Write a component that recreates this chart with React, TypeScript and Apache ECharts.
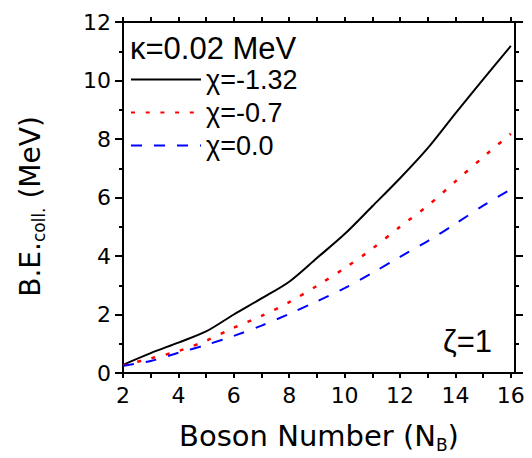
import React, { useEffect, useRef } from "react";
import * as echarts from "echarts";

// Boson number N_B (x) and binding energy B.E._coll. in MeV (y)
const bosonNumbers = [2, 3, 4, 5, 6, 7, 8, 9, 10, 11, 12, 13, 14, 15, 16];
const beChiNeg132 = [0.28, 0.68, 1.04, 1.42, 2.0, 2.55, 3.12, 3.93, 4.75, 5.7, 6.66, 7.69, 8.88, 10.04, 11.18];
const beChiNeg07 = [0.26, 0.5, 0.75, 1.1, 1.55, 1.95, 2.42, 2.98, 3.58, 4.25, 5.0, 5.72, 6.55, 7.38, 8.18];
const beChiZero = [0.25, 0.41, 0.69, 0.96, 1.27, 1.62, 2.02, 2.45, 2.9, 3.42, 3.97, 4.51, 5.1, 5.72, 6.28];

const seriesNames = ["χ=-1.32", "χ=-0.7", "χ=0.0"];
const xTickValues = [2, 3, 4, 5, 6, 7, 8, 9, 10, 11, 12, 13, 14, 15, 16];
const xLabelValues = [2, 4, 6, 8, 10, 12, 14, 16];
const kappaLabel = "κ=0.02 MeV";
const zetaLabel = "ζ=1";

const SANS = "'DejaVu Sans', sans-serif";
const ARIAL = "'Liberation Sans', Arial, sans-serif";

const pairs = (ys: number[]) => bosonNumbers.map((x, i) => [x, ys[i]]);

export default function App() {
  const ref = useRef<HTMLDivElement>(null);

  useEffect(() => {
    document.body.style.margin = "0";
    const chart = echarts.init(ref.current!, null, { renderer: "svg" });

    const axisLine = { show: true, onZero: false, lineStyle: { color: "#000", width: 2 } };

    const xBase = (position: "bottom" | "top", labels: boolean) => ({
      type: "value" as const,
      position,
      min: 2,
      max: 16.15,
      interval: 1,
      axisLine,
      splitLine: { show: false },
      axisTick: {
        show: true,
        inside: false,
        length: 5,
        customValues: xTickValues,
        lineStyle: { color: "#000", width: 2 },
      },
      axisLabel: labels
        ? {
            show: true,
            customValues: xLabelValues,
            margin: 11,
            color: "#000",
            fontSize: 22,
            fontFamily: SANS,
          }
        : { show: false },
    });

    const yBase = (position: "left" | "right", labels: boolean) => ({
      type: "value" as const,
      position,
      min: 0,
      max: 12,
      interval: 2,
      axisLine,
      splitLine: { show: false },
      axisTick: { show: true, inside: false, length: 8, lineStyle: { color: "#000", width: 2 } },
      minorTick: { show: true, splitNumber: 2, length: 4, lineStyle: { color: "#000", width: 2 } },
      minorSplitLine: { show: false },
      axisLabel: labels
        ? { show: true, margin: 12, color: "#000", fontSize: 22, fontFamily: SANS }
        : { show: false },
    });

    chart.setOption({
      animation: false,
      backgroundColor: "#fff",
      grid: { left: 123, right: 17, top: 22, bottom: 84, containLabel: false },
      xAxis: [
        {
          ...xBase("bottom", true),
          name: "{a|Boson Number (N}{s|B}{a|)}",
          nameLocation: "middle",
          nameGap: 46,
          nameTextStyle: {
            color: "#000",
            fontFamily: SANS,
            fontSize: 29,
            rich: {
              a: { fontFamily: SANS, fontSize: 29, color: "#000", lineHeight: 34 },
              s: { fontFamily: SANS, fontSize: 17, color: "#000", lineHeight: 12, verticalAlign: "bottom" },
            },
          },
        },
        xBase("top", false),
      ],
      yAxis: [
        {
          ...yBase("left", true),
          name: "{a|B.E.}{s|coll.}{a| (MeV)}",
          nameLocation: "middle",
          nameGap: 76,
          nameRotate: 90,
          nameTextStyle: {
            color: "#000",
            fontFamily: SANS,
            fontSize: 28,
            padding: [0, 18, 0, 0],
            rich: {
              a: { fontFamily: SANS, fontSize: 28, color: "#000", lineHeight: 34 },
              s: { fontFamily: SANS, fontSize: 17, color: "#000", lineHeight: 12, verticalAlign: "bottom" },
            },
          },
        },
        yBase("right", false),
      ],
      legend: {
        show: true,
        orient: "vertical",
        left: 130,
        top: 63,
        padding: 0,
        itemGap: 0,
        itemWidth: 70,
        itemHeight: 20,
        itemTextGap: 6,
        data: seriesNames,
        itemStyle: { opacity: 0, borderWidth: 0 },
        textStyle: { fontFamily: ARIAL, fontSize: 27, color: "#000", lineHeight: 33 },
      },
      graphic: [
        {
          type: "text",
          x: 130,
          y: 48,
          style: {
            text: kappaLabel,
            fontFamily: ARIAL,
            fontSize: 31,
            fill: "#000",
            verticalAlign: "middle",
          },
        },
        {
          type: "text",
          x: 443,
          y: 341,
          style: {
            text: zetaLabel,
            fontFamily: ARIAL,
            fontSize: 31,
            fill: "#000",
            verticalAlign: "middle",
          },
        },
      ],
      series: [
        {
          name: seriesNames[0],
          type: "line",
          data: pairs(beChiNeg132),
          smooth: 0.3,
          symbol: "none",
          showSymbol: false,
          lineStyle: { color: "#000", width: 2, type: "solid" },
          itemStyle: { color: "#000" },
        },
        {
          name: seriesNames[1],
          type: "line",
          data: pairs(beChiNeg07),
          smooth: 0.3,
          symbol: "none",
          showSymbol: false,
          lineStyle: { color: "#ff0000", width: 2.5, type: [4, 10.7] },
          itemStyle: { color: "#ff0000" },
        },
        {
          name: seriesNames[2],
          type: "line",
          data: pairs(beChiZero),
          smooth: 0.3,
          symbol: "none",
          showSymbol: false,
          lineStyle: { color: "#0000ff", width: 2, type: [11, 12] },
          itemStyle: { color: "#0000ff" },
        },
      ],
    });

    return () => chart.dispose();
  }, []);

  return (
    <div
      ref={ref}
      style={{ position: "fixed", left: 0, top: 0, width: 532, height: 458, background: "#fff" }}
    />
  );
}
